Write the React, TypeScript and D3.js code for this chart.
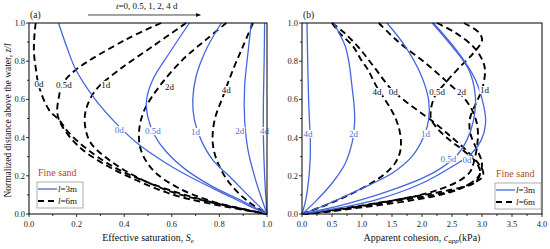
import React, { useEffect, useRef } from 'react';
import * as d3 from 'd3';

type Pt = [number, number];

// elapsed time for each curve
const days = ['0d', '0.5d', '1d', '2d', '4d'];

// (a) effective saturation Se vs z/l, l = 3 m
const seShort: Pt[][] = [
	[[0.124, 1], [0.16, 0.87], [0.197, 0.755], [0.274, 0.607], [0.365, 0.476], [0.463, 0.362], [0.576, 0.266], [0.688, 0.187], [0.829, 0.1], [0.92, 0.045], [1, 0]],
	[[0.674, 1], [0.59, 0.843], [0.52, 0.703], [0.494, 0.598], [0.499, 0.51], [0.527, 0.414], [0.576, 0.327], [0.66, 0.231], [0.772, 0.143], [0.9, 0.065], [1, 0]],
	[[0.808, 1], [0.744, 0.86], [0.702, 0.72], [0.688, 0.598], [0.695, 0.493], [0.723, 0.388], [0.772, 0.283], [0.843, 0.196], [0.927, 0.09], [1, 0]],
	[[0.934, 1], [0.92, 0.843], [0.906, 0.668], [0.906, 0.493], [0.92, 0.336], [0.948, 0.196], [0.975, 0.09], [1, 0]],
	[[0.99, 1], [0.988, 0.8], [0.985, 0.6], [0.985, 0.4], [0.99, 0.2], [1, 0]],
];
// (a) l = 6 m
const seLong: Pt[][] = [
	[[0.028, 1], [0.022, 0.92], [0.021, 0.843], [0.03, 0.75], [0.042, 0.668], [0.084, 0.545], [0.126, 0.493], [0.169, 0.423], [0.267, 0.318], [0.379, 0.231], [0.548, 0.143], [0.758, 0.065], [1, 0]],
	[[0.555, 1], [0.407, 0.913], [0.197, 0.755], [0.14, 0.68], [0.126, 0.615], [0.119, 0.528], [0.14, 0.458], [0.21, 0.353], [0.309, 0.266], [0.449, 0.178], [0.632, 0.091], [1, 0]],
	[[0.66, 1], [0.52, 0.878], [0.379, 0.755], [0.281, 0.65], [0.239, 0.545], [0.236, 0.458], [0.26, 0.371], [0.337, 0.283], [0.449, 0.196], [0.618, 0.108], [1, 0]],
	[[0.829, 1], [0.744, 0.913], [0.646, 0.808], [0.548, 0.668], [0.485, 0.545], [0.463, 0.44], [0.47, 0.336], [0.52, 0.231], [0.618, 0.143], [0.772, 0.065], [1, 0]],
	[[0.941, 1], [0.899, 0.878], [0.857, 0.755], [0.815, 0.615], [0.78, 0.493], [0.772, 0.371], [0.794, 0.266], [0.843, 0.161], [0.913, 0.073], [1, 0]],
];
const seShortLabels: Pt[] = [[0.379, 0.44], [0.52, 0.435], [0.7, 0.43], [0.885, 0.435], [0.99, 0.435]];
const seLongLabels: Pt[] = [[0.042, 0.68], [0.147, 0.677], [0.323, 0.677], [0.59, 0.668], [0.829, 0.65]];

// (b) apparent cohesion c_app (kPa) vs z/l, l = 3 m
const cShort: Pt[][] = [
	[[2.19, 1], [2.61, 0.843], [2.89, 0.703], [3.03, 0.563], [3.06, 0.476], [2.99, 0.388], [2.83, 0.318], [2.5, 0.248], [2.0, 0.161], [1.22, 0.073], [0, 0]],
	[[2.17, 1], [2.5, 0.878], [2.78, 0.755], [2.89, 0.615], [2.86, 0.493], [2.75, 0.388], [2.56, 0.3], [2.17, 0.213], [1.5, 0.126], [0.778, 0.056], [0, 0]],
	[[1.417, 1], [1.72, 0.878], [1.97, 0.738], [2.11, 0.598], [2.11, 0.493], [2.03, 0.406], [1.83, 0.3], [1.5, 0.213], [0.944, 0.126], [0.389, 0.047], [0, 0]],
	[[0.528, 1], [0.63, 0.94], [0.722, 0.878], [0.79, 0.78], [0.833, 0.668], [0.868, 0.57], [0.878, 0.493], [0.86, 0.42], [0.833, 0.371], [0.722, 0.266], [0.5, 0.161], [0.222, 0.065], [0, 0]],
	[[0.083, 1], [0.095, 0.8], [0.11, 0.6], [0.13, 0.45], [0.14, 0.35], [0.13, 0.25], [0.1, 0.15], [0.06, 0.07], [0, 0]],
];
// (b) l = 6 m
const cLong: Pt[][] = [
	[[0.5, 1], [0.7, 0.95], [0.95, 0.87], [1.2, 0.77], [1.5, 0.65], [1.85, 0.56], [2.2, 0.48], [2.5, 0.4], [2.75, 0.33], [2.95, 0.26], [3.02, 0.22], [3.0, 0.19], [2.7, 0.145], [2.3, 0.115], [1.8, 0.088], [1.15, 0.05], [0.6, 0.022], [0, 0]],
	[[2.7, 1], [2.95, 0.95], [3.0, 0.91], [2.85, 0.84], [2.6, 0.76], [2.4, 0.69], [2.22, 0.62], [2.15, 0.55], [2.15, 0.5], [2.25, 0.45], [2.45, 0.39], [2.7, 0.33], [2.9, 0.27], [2.97, 0.22], [2.9, 0.17], [2.6, 0.13], [2.2, 0.1], [1.6, 0.07], [0.9, 0.035], [0.4, 0.012], [0, 0]],
	[[2.25, 1], [2.55, 0.95], [2.85, 0.878], [3.0, 0.81], [3.05, 0.755], [3.0, 0.65], [2.9, 0.58], [2.8, 0.5], [2.8, 0.43], [2.88, 0.36], [2.97, 0.3], [3.0, 0.26], [2.95, 0.2], [2.75, 0.15], [2.4, 0.108], [1.8, 0.07], [1.0, 0.035], [0.4, 0.012], [0, 0]],
	[[1.28, 1], [1.61, 0.9], [2.06, 0.79], [2.44, 0.685], [2.72, 0.6], [2.87, 0.52], [2.93, 0.44], [2.92, 0.36], [2.87, 0.28], [2.8, 0.22], [2.6, 0.17], [2.3, 0.13], [1.85, 0.09], [1.3, 0.06], [0.7, 0.03], [0.25, 0.01], [0, 0]],
	[[0.5, 1], [0.62, 0.95], [0.85, 0.878], [1.0, 0.8], [1.1, 0.755], [1.22, 0.68], [1.35, 0.615], [1.48, 0.55], [1.57, 0.493], [1.63, 0.43], [1.65, 0.371], [1.63, 0.32], [1.55, 0.266], [1.38, 0.21], [1.15, 0.161], [0.85, 0.11], [0.6, 0.073], [0.3, 0.035], [0, 0]],
];
const cShortLabels: Pt[] = [[2.75, 0.285], [2.44, 0.29], [2.06, 0.42], [0.86, 0.42], [0.1, 0.42]];
const cLongLabels: Pt[] = [[1.52, 0.64], [2.25, 0.64], [3.04, 0.65], [2.66, 0.64], [1.25, 0.64]];

const serif = '"Liberation Serif", "Times New Roman", serif';
const blue = '#4466dd';
const blueText = '#4d70d6';

function drawPanel(svg, o) {
	const g = svg.append('g');
	const x = d3.scaleLinear().domain(o.xDomain).range(o.xRange);
	const y = d3.scaleLinear().domain([0, 1]).range([214, 23]);
	const line = d3
		.line()
		.x(d => x(d[0]))
		.y(d => y(d[1]))
		.curve(d3.curveCatmullRom.alpha(0.5));

	// long column curves (dashed) first, then short (blue)
	g.selectAll('.long')
		.data(o.long)
		.enter()
		.append('path')
		.attr('fill', 'none')
		.attr('stroke', '#000')
		.attr('stroke-width', 1.9)
		.attr('stroke-dasharray', '6.5,4')
		.attr('d', d => line(d));
	g.selectAll('.short')
		.data(o.short)
		.enter()
		.append('path')
		.attr('fill', 'none')
		.attr('stroke', blue)
		.attr('stroke-width', 1.3)
		.attr('d', d => line(d));

	// curve labels with white boxes
	const putLabel = (p, txt, color) => {
		const t = g
			.append('text')
			.attr('x', x(p[0]))
			.attr('y', y(p[1]))
			.attr('dy', '0.35em')
			.attr('text-anchor', 'middle')
			.attr('font-family', serif)
			.attr('font-size', 9)
			.attr('fill', color)
			.text(txt);
		const b = t.node().getBBox();
		g.insert('rect', () => t.node())
			.attr('x', b.x - 0.5)
			.attr('y', b.y + 1)
			.attr('width', b.width + 1)
			.attr('height', b.height - 2)
			.attr('fill', '#fff');
	};
	o.longLabels.forEach((p, i) => putLabel(p, days[i], '#111'));
	o.shortLabels.forEach((p, i) => putLabel(p, days[i], blueText));

	// frame
	g.append('rect')
		.attr('x', o.xRange[0])
		.attr('y', 23)
		.attr('width', o.xRange[1] - o.xRange[0])
		.attr('height', 191)
		.attr('fill', 'none')
		.attr('stroke', '#000')
		.attr('stroke-width', 1);

	// ticks (outward)
	const tk = g.append('g').attr('stroke', '#000').attr('stroke-width', 0.8);
	d3.range(0, 1.0001, 0.1).forEach((v, i) => {
		tk.append('line')
			.attr('x1', o.xRange[0])
			.attr('x2', o.xRange[0] - (i % 2 === 0 ? 3 : 2))
			.attr('y1', y(v))
			.attr('y2', y(v));
	});
	d3.range(o.xDomain[0], o.xDomain[1] + 1e-6, o.xMinor).forEach((v, i) => {
		tk.append('line')
			.attr('x1', x(v))
			.attr('x2', x(v))
			.attr('y1', 214)
			.attr('y2', 214 + (i % 2 === 0 ? 3 : 2));
	});
	const lab = g.append('g').attr('font-family', serif).attr('font-size', 8.5).attr('fill', '#222');
	d3.range(0, 1.0001, 0.2).forEach(v => {
		lab.append('text')
			.attr('x', o.xRange[0] - 4)
			.attr('y', y(v))
			.attr('dy', '0.35em')
			.attr('text-anchor', 'end')
			.text(d3.format('.1f')(v));
	});
	d3.range(o.xDomain[0], o.xDomain[1] + 1e-6, o.xMinor * 2).forEach(v => {
		lab.append('text')
			.attr('x', x(v))
			.attr('y', 227)
			.attr('text-anchor', 'middle')
			.text(d3.format('.1f')(v));
	});

	// legend
	const lx = o.legendX;
	g.append('text')
		.attr('x', lx + 1)
		.attr('y', o.legendY - 6)
		.attr('font-family', serif)
		.attr('font-size', 10)
		.attr('fill', o.sandColor)
		.text('Fine sand');
	g.append('rect')
		.attr('x', lx)
		.attr('y', o.legendY)
		.attr('width', 46)
		.attr('height', 26)
		.attr('fill', '#fff')
		.attr('stroke', '#999')
		.attr('stroke-width', 0.8);
	[
		{ dash: null, color: blue, w: 1.3, txt: '=3m' },
		{ dash: '6,4', color: '#000', w: 1.9, txt: '=6m' },
	].forEach((e, i) => {
		const ly = o.legendY + 7 + i * 12;
		g.append('line')
			.attr('x1', lx + 1)
			.attr('x2', lx + 20)
			.attr('y1', ly)
			.attr('y2', ly)
			.attr('stroke', e.color)
			.attr('stroke-width', e.w)
			.attr('stroke-dasharray', e.dash);
		const t = g
			.append('text')
			.attr('x', lx + 21)
			.attr('y', ly)
			.attr('dy', '0.35em')
			.attr('font-family', serif)
			.attr('font-size', 9)
			.attr('fill', '#111');
		t.append('tspan').attr('font-style', 'italic').text('l');
		t.append('tspan').text(e.txt);
	});

	// x title
	const xt = g
		.append('text')
		.attr('x', (o.xRange[0] + o.xRange[1]) / 2)
		.attr('y', 241)
		.attr('text-anchor', 'middle')
		.attr('font-family', serif)
		.attr('font-size', 10)
		.attr('fill', '#111');
	o.title(xt);

	g.append('text')
		.attr('x', o.xRange[0] + 1)
		.attr('y', 18)
		.attr('font-family', serif)
		.attr('font-size', 9.5)
		.attr('fill', '#111')
		.text(o.tag);

	return { x, y };
}

export default function App() {
	const ref = useRef(null);
	useEffect(() => {
		const svg = d3.select(ref.current);
		svg.selectAll('*').remove();

		const a = drawPanel(svg, {
			xDomain: [0, 1],
			xRange: [29, 267],
			xMinor: 0.1,
			short: seShort,
			long: seLong,
			shortLabels: seShortLabels,
			longLabels: seLongLabels,
			legendX: 37,
			legendY: 182,
			sandColor: '#c8383a',
			tag: '(a)',
			title: t => {
				t.append('tspan').text('Effective saturation,  ');
				t.append('tspan').attr('font-style', 'italic').text('S');
				t.append('tspan').attr('font-style', 'italic').attr('font-size', 7).attr('dy', 2).text('e');
			},
		});
		drawPanel(svg, {
			xDomain: [0, 4],
			xRange: [302, 542],
			xMinor: 0.25,
			short: cShort,
			long: cLong,
			shortLabels: cShortLabels,
			longLabels: cLongLabels,
			legendX: 495,
			legendY: 183,
			sandColor: '#b0502c',
			tag: '(b)',
			title: t => {
				t.append('tspan').text('Apparent cohesion, ');
				t.append('tspan').attr('font-style', 'italic').text('c');
				t.append('tspan').attr('font-style', 'italic').attr('font-size', 7).attr('dy', 2).text('app');
				t.append('tspan').attr('dy', -2).text('(kPa)');
			},
		});

		// y title (shared)
		const yt = svg
			.append('text')
			.attr('transform', `translate(11,${a.y(0.5) + 2}) rotate(-90)`)
			.attr('text-anchor', 'middle')
			.attr('font-family', serif)
			.attr('font-size', 9.5)
			.attr('fill', '#111');
		yt.append('tspan').text('Normalized distance above the water,  ');
		yt.append('tspan').attr('font-style', 'italic').text('z/l');

		// time arrow annotation
		svg.append('defs')
			.append('marker')
			.attr('id', 'arr')
			.attr('viewBox', '0 0 10 10')
			.attr('refX', 9)
			.attr('refY', 5)
			.attr('markerWidth', 6)
			.attr('markerHeight', 6)
			.attr('orient', 'auto')
			.append('path')
			.attr('d', 'M0,1 L10,5 L0,9 z')
			.attr('fill', '#111');
		svg.append('line')
			.attr('x1', a.x(0.248))
			.attr('x2', a.x(0.72))
			.attr('y1', a.y(1.042))
			.attr('y2', a.y(1.042))
			.attr('stroke', '#111')
			.attr('stroke-width', 0.8)
			.attr('marker-end', 'url(#arr)');
		const tt = svg
			.append('text')
			.attr('x', a.x(0.495))
			.attr('y', a.y(1.072))
			.attr('text-anchor', 'middle')
			.attr('font-family', serif)
			.attr('font-size', 9)
			.attr('fill', '#111');
		tt.append('tspan').attr('font-style', 'italic').text('t');
		tt.append('tspan').text('=0, 0.5, 1, 2, 4 d');
	}, []);

	return (
		<svg
			ref={ref}
			width={550}
			height={249}
			style={{ position: 'absolute', left: 0, top: 0, background: '#fff' }}
		/>
	);
}
